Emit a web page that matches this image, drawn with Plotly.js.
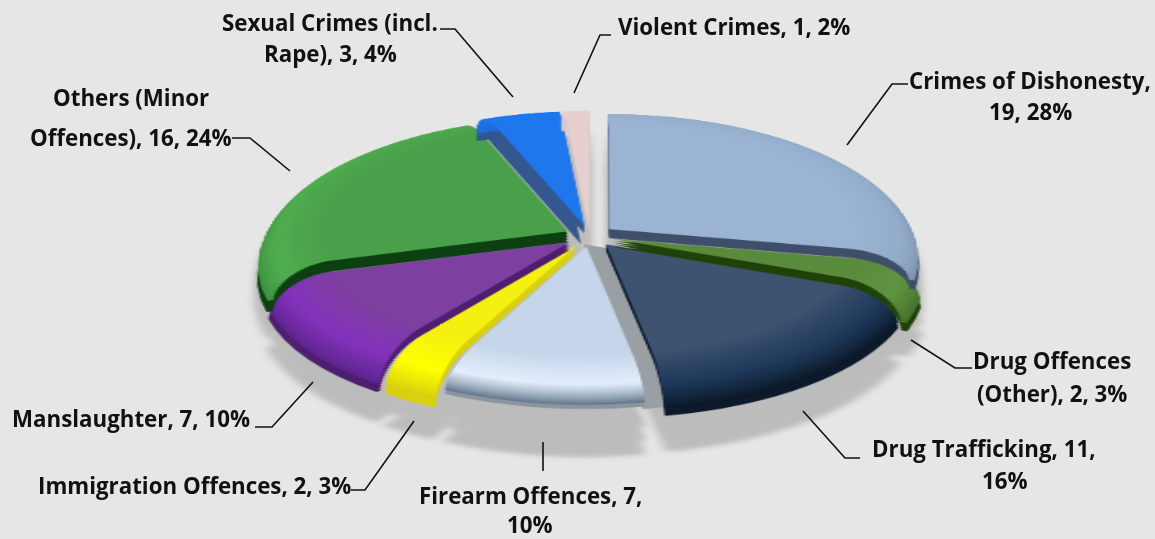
<!DOCTYPE html>
<html><head><meta charset="utf-8">
<script src="https://cdn.plot.ly/plotly-3.0.1.min.js"></script>
<style>html,body{margin:0;padding:0;width:1155px;height:539px;overflow:hidden;background:#e6e6e6}#chart{width:1155px;height:539px}</style>
</head><body><div id="chart"></div>
<script>
const categories=["Crimes of Dishonesty","Drug Offences (Other)","Drug Trafficking","Firearm Offences","Immigration Offences","Manslaughter","Others (Minor Offences)","Sexual Crimes (incl. Rape)","Violent Crimes"];
const counts=[19,2,11,7,2,7,16,3,1];
const faceColors=["#9bb4d3","#5a8a3c","#3d5370","#c5d6ea","#f5f010","#7d3fa0","#4aa04a","#1f77ee","#e6cfcf"];
const midColors=["#93acca","#5f9440","#1f3a5c","#e2eefc","#ffff00","#8232bb","#4fae4f","#1f77ee","#e6cfcf"];
const edgeColors=["#7d94b0","#44702c","#0b1828","#66788e","#d8d010","#5f2590","#3f8f3f","#1c6cd8","#dcc4c4"];
const wallColors=["#3f4f6a","#1f4208","#0c1a2c","#8b95a0","#d8d010","#4d1f70","#0c4012","#35578f","#d8c8c8"];
const rimDepth=[26,34,27,18,28,30,32,28,28];
const wallDepth=[9,8,6,4,8,8,11,8,6];
const paintOrder=[2,3,1,0,4,5,6,7,8];
const labelLines=["Sexual Crimes (incl.","Rape), 3, 4%","Violent Crimes, 1, 2%","Crimes of Dishonesty,","19, 28%","Others (Minor","Offences), 16, 24%","Drug Offences","(Other), 2, 3%","Drug Trafficking, 11,","16%","Firearm Offences, 7,","10%","Immigration Offences, 2, 3%","Manslaughter, 7, 10%"];
const labelX=[330,330,734,1030,1030,131,131,1052,1052,984,1005,530,530,194,131];
const labelY=[22,53,27,80,111,97,137,360,393,448,480,495,524,485,418];
const leaders=[[[440,29],[455,29],[513,97]],[[611,35],[600,35],[574,93]],[[908,84],[892,84],[847,145]],[[232,138],[250,138],[290,171]],[[972,368],[955,368],[911,340]],[[860,458],[845,458],[803,411]],[[543,442],[543,471]],[[351,490],[365,490],[414,421]],[[255,427],[272,427],[313,382]]];

const W=1155,H=539,cx=590,cy=236,R=170,pullPx=13.6,scale=1.81,tilt=64.2;
const vs=scale*Math.cos(tilt*Math.PI/180);
const shadow=40/vs,inner=0.8,K=24;
function pie(colors,r,dx,dy,hole,pullAmount){
  const px=pullAmount===undefined?pullPx:pullAmount,h=r+px,p=px/r;
  return{type:'pie',labels:categories,values:counts,sort:false,direction:'clockwise',rotation:0,pull:counts.map(()=>p),hole:hole||0,textinfo:'none',showlegend:false,hoverinfo:'skip',
    domain:{x:[(cx+dx-h)/W,(cx+dx+h)/W],y:[1-(cy+dy+h)/H,1-(cy+dy-h)/H]},marker:{colors:colors,line:{width:0}}};
}
function only(i,c){return counts.map((_,j)=>j===i?c:'rgba(0,0,0,0)');}
function hex(c){return[1,3,5].map(s=>parseInt(c.substr(s,2),16));}
function mix(a,b,t){const A=hex(a),B=hex(b);return'rgb('+A.map((v,i)=>Math.round(v+(B[i]-v)*t)).join(',')+')';}
function ringColor(i,t){return t<0.55?mix(faceColors[i],midColors[i],t/0.55):mix(midColors[i],edgeColors[i],(t-0.55)/0.45);}
function ringsFor(i){const drop=rimDepth[i]/vs,out=[];
  for(let k=0;k<=K;k++){const a=k/K*Math.PI/2;out.push({t:k/K,r:R*(inner+(1-inner)*Math.sin(a)),d:drop*(1-Math.cos(a))});}
  return out;}
const grey=counts.map(()=>'#bcbcbc');
const shadowDrop=26/vs;
const data=[pie(grey,R,0,shadow),pie(grey,R,0,shadow+shadowDrop/2),pie(grey,R,0,shadow+shadowDrop)];
paintOrder.forEach(i=>{
  const rings=ringsFor(i),drop=rimDepth[i]/vs,wall=wallDepth[i]/vs;
  if(i===2)for(let g=0;g<=5;g++)data.push(pie(only(i,'#9a9fa3'),R,-12,drop*g/5));
  if(i===7)data.push(pie(only(i,wallColors[i]),R*0.97,-5,wall,0,0));
  for(let k=K;k>=1;k--){const q=rings[k],p=rings[k-1];
    data.push(pie(only(i,wallColors[i]),q.r,0,q.d+wall,Math.max(0,(p.r-(q.d-p.d)-1)/q.r)));}
  [1,0.75,0.5,0.25].forEach(f=>data.push(pie(only(i,wallColors[i]),rings[0].r,0,wall*f)));
  for(let k=K;k>=1;k--){const q=rings[k],p=rings[k-1];
    data.push(pie(only(i,ringColor(i,q.t)),q.r,0,q.d,Math.max(0,(p.r-(q.d-p.d)-1)/q.r)));}
  data.push(pie(only(i,faceColors[i]),rings[0].r,0,0));
});
const annotations=labelLines.map((t,i)=>({text:'<b>'+t+'</b>',x:labelX[i]/W,y:1-labelY[i]/H,xref:'paper',yref:'paper',showarrow:false,xanchor:'center',yanchor:'middle',font:{family:'Open Sans',size:22.3,color:'#111'}}));
const shapes=leaders.map(p=>({type:'path',xref:'paper',yref:'paper',layer:'above',path:p.map((q,i)=>(i?'L':'M')+(q[0]/W)+','+(1-q[1]/H)).join(' '),line:{color:'#111',width:1.6}}));
const layout={width:W,height:H,margin:{l:0,r:0,t:0,b:0},paper_bgcolor:'#e6e6e6',showlegend:false,annotations,shapes};
Plotly.newPlot('chart',data,layout,{displayModeBar:false,staticPlot:true}).then(gd=>{
  const svg=gd.querySelector('svg.main-svg');
  const traces=svg.querySelectorAll('.pielayer .trace');
  [0,1,2].forEach(t=>{traces[t].style.filter='blur(2.5px)';});
  svg.style.transformOrigin=cx+'px '+cy+'px';
  svg.style.transform='perspective(9240px) rotateX('+tilt+'deg) scale('+scale+')';
});
</script></body></html>
